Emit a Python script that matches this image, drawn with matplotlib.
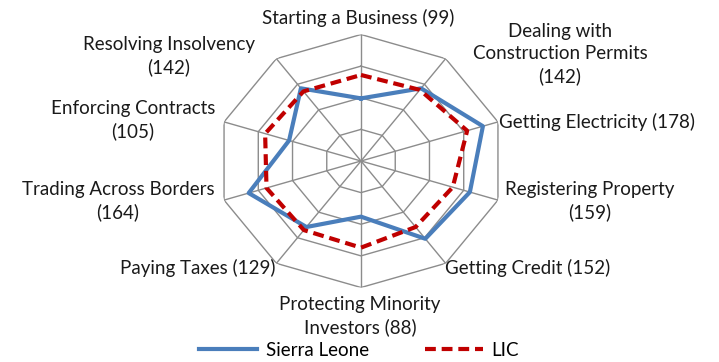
import numpy as np
import matplotlib
matplotlib.use("Agg")
import matplotlib.pyplot as plt
from matplotlib.lines import Line2D

plt.rcParams["font.family"] = ["Lato", "DejaVu Sans"]

categories = ["Starting a Business", "Dealing with Construction Permits",
              "Getting Electricity", "Registering Property", "Getting Credit",
              "Protecting Minority Investors", "Paying Taxes",
              "Trading Across Borders", "Enforcing Contracts",
              "Resolving Insolvency"]
sierra_leone = [99, 142, 178, 159, 152, 88, 129, 164, 105, 142]
lic = [136, 139, 155, 134, 129, 137, 135, 138, 140, 136]
rings = [50, 100, 150, 200]
r_max = 200

# label text and its pixel anchor (x, y from top), alignment
label_text = ["Starting a Business (99)",
              "Dealing with\nConstruction Permits\n(142)",
              "Getting Electricity (178)",
              "Registering Property\n(159)",
              "Getting Credit (152)",
              "Protecting Minority\nInvestors (88)",
              "Paying Taxes (129)",
              "Trading Across Borders\n(164)",
              "Enforcing Contracts\n(105)",
              "Resolving Insolvency\n(142)"]
label_pos = [(358, 18, "center"), (560, 54, "center"), (499, 122, "left"),
             (590, 201, "center"), (445, 268, "left"), (360, 316, "center"),
             (276, 268, "right"), (118, 201, "center"), (133, 120, "center"),
             (169, 56, "center")]

W, H = 719, 362
fig = plt.figure(figsize=(W / 100, H / 100), dpi=100)
cx, cy, rx, ry = 361, 201, 144, 126.5
ax = fig.add_axes([(cx - rx) / W, (cy - ry) / H, 2 * rx / W, 2 * ry / H],
                  projection="polar")
ax.set_aspect("auto")
ax.set_theta_zero_location("N")
ax.set_theta_direction(-1)
ax.set_ylim(0, r_max)
ax.axis("off")

n = len(categories)
ang = np.linspace(0, 2 * np.pi, n, endpoint=False)
ang_c = np.append(ang, ang[0])

# decagon grid and spokes
for r in rings:
    ax.plot(ang_c, [r] * (n + 1), color="#8c8c8c", lw=1.0, zorder=1)
for a in ang:
    ax.plot([a, a], [0, r_max], color="#8c8c8c", lw=1.0, zorder=1)

dash = (0, (2.6, 1.4))
ax.plot(ang_c, sierra_leone + sierra_leone[:1], color="#4a7ebb", lw=3,
        zorder=3)
ax.plot(ang_c, lic + lic[:1], color="#c00000", lw=3, ls=dash, zorder=4)

for txt, (x, y, ha) in zip(label_text, label_pos):
    fig.text(x / W, 1 - y / H, txt, ha=ha, va="center", fontsize=13.5,
             linespacing=1.35, color="#1a1a1a")

handles = [Line2D([], [], color="#4a7ebb", lw=3),
           Line2D([], [], color="#c00000", lw=3, ls=dash)]
fig.legend(handles, ["Sierra Leone", "LIC"], loc="center",
           bbox_to_anchor=(359 / W, 1 - 350 / H), ncol=2, frameon=False,
           fontsize=13.5, handlelength=3.1, columnspacing=3.0,
           handletextpad=0.45)

fig.savefig("out.png", dpi=100)
